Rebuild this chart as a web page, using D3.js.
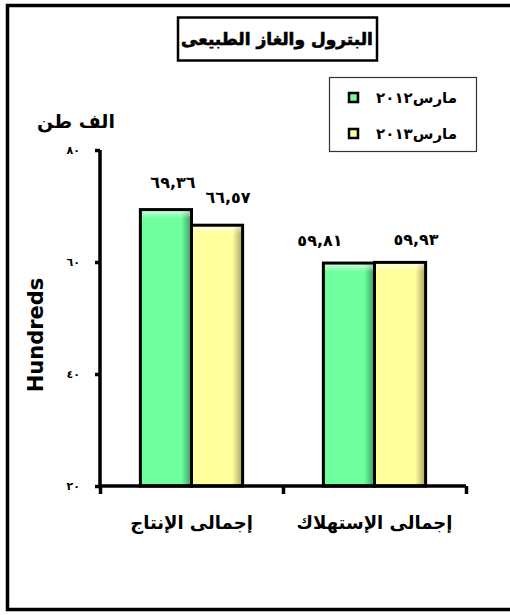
<!DOCTYPE html>
<html>
<head>
<meta charset="utf-8">
<script src="https://cdn.jsdelivr.net/npm/d3@7"></script>
<style>
  body { margin: 0; background: #fff; }
  text { font-family: "DejaVu Sans", sans-serif; font-weight: bold; }
</style>
</head>
<body>
<script>
var categories = ["إجمالى الإنتاج", "إجمالى الإستهلاك"];
var series = ["مارس٢٠١٢", "مارس٢٠١٣"];
var values2012 = [69.36, 59.81];
var values2013 = [66.57, 59.93];
var yTicks = [20, 40, 60, 80];

var w = 510, h = 615;
var colors = { "مارس٢٠١٢": ["#6fff9f", "#3c9c60"], "مارس٢٠١٣": ["#ffff9c", "#a8a060"] };

// western digits -> arabic-indic, decimal point -> comma
function arabicNum(n, dec) {
  var s = dec ? n.toFixed(dec) : String(n);
  return s.replace(/\d/g, function(c) { return "٠١٢٣٤٥٦٧٨٩"[+c]; }).replace(".", ",");
}

var svg = d3.select("body").append("svg").attr("width", w).attr("height", h);
var defs = svg.append("defs");

series.forEach(function(s, i) {
  var g = defs.append("linearGradient").attr("id", "grad" + i)
    .attr("x1", "0").attr("x2", "1").attr("y1", "0").attr("y2", "0");
  g.append("stop").attr("offset", "0").attr("stop-color", colors[s][0]);
  g.append("stop").attr("offset", "0.8").attr("stop-color", colors[s][0]);
  g.append("stop").attr("offset", "1").attr("stop-color", colors[s][1]);
});
var hl = defs.append("linearGradient").attr("id", "hl")
  .attr("x1", "0").attr("x2", "0").attr("y1", "0").attr("y2", "1");
hl.append("stop").attr("offset", "0").attr("stop-color", "#fff").attr("stop-opacity", 0.7);
hl.append("stop").attr("offset", "1").attr("stop-color", "#fff").attr("stop-opacity", 0);

// outer frame
svg.append("rect").attr("x", 7.5).attr("y", 5.5).attr("width", 530).attr("height", 604)
  .attr("fill", "none").attr("stroke", "#000").style("stroke-width", 3.5);

// title
svg.append("rect").attr("x", 178).attr("y", 17.5).attr("width", 199).attr("height", 43)
  .attr("fill", "#fff").attr("stroke", "#000").style("stroke-width", 2.5);
svg.append("text").attr("x", 277).attr("y", 45).attr("text-anchor", "middle")
  .attr("direction", "rtl").attr("font-size", 17).attr("stroke", "#000").style("stroke-width", 0.6)
  .text("البترول والغاز الطبيعى");

var y = d3.scaleLinear().domain([20, 80]).range([486, 150]);
var x = d3.scaleBand().domain(categories).range([100, 466]);
var x1 = d3.scaleBand().domain(series).range([0, x.bandwidth()]).paddingOuter(0.79);

// y axis
var yAxis = svg.append("g").attr("transform", "translate(100,0)")
  .call(d3.axisLeft(y).tickValues(yTicks).tickSize(5).tickFormat(function(d) { return arabicNum(d); }));
yAxis.select(".domain").style("stroke-width", 3.5).attr("d", "M0," + y(80) + "V" + y(20));
yAxis.selectAll(".tick line").style("stroke-width", 3.5);
yAxis.selectAll(".tick text").attr("x", -20).attr("font-size", 11)
  .attr("letter-spacing", 4).attr("font-family", "DejaVu Sans");

// bars
var rows = categories.map(function(c, i) {
  return [{ cat: c, s: series[0], v: values2012[i] }, { cat: c, s: series[1], v: values2013[i] }];
});
var groups = svg.selectAll("g.grp").data(rows).enter().append("g").attr("class", "grp")
  .attr("transform", function(d) { return "translate(" + x(d[0].cat) + ",0)"; });
var bar = groups.selectAll("g.bar").data(function(d) { return d; }).enter().append("g").attr("class", "bar");
bar.append("rect")
  .attr("x", function(d) { return x1(d.s); })
  .attr("y", function(d) { return y(d.v); })
  .attr("width", x1.bandwidth())
  .attr("height", function(d) { return y(20) - y(d.v); })
  .attr("fill", function(d) { return "url(#grad" + series.indexOf(d.s) + ")"; });
bar.append("rect")
  .attr("x", function(d) { return x1(d.s); })
  .attr("y", function(d) { return y(d.v); })
  .attr("width", x1.bandwidth()).attr("height", 9)
  .attr("fill", "url(#hl)");
bar.append("rect")
  .attr("x", function(d) { return x1(d.s); })
  .attr("y", function(d) { return y(d.v); })
  .attr("width", x1.bandwidth())
  .attr("height", function(d) { return y(20) - y(d.v); })
  .attr("fill", "none").attr("stroke", "#000").style("stroke-width", 3);

// value labels (nudged like the original)
var nudge = [[7, 11], [-29, 16]];
bar.append("text")
  .attr("x", function(d) { return x1(d.s) + x1.bandwidth() / 2 + nudge[categories.indexOf(d.cat)][series.indexOf(d.s)]; })
  .attr("y", function(d) { return y(d.v) - (d.cat === categories[0] ? 22 : 17); })
  .attr("text-anchor", "middle").attr("font-size", 16).attr("letter-spacing", 5)
  .text(function(d) { return arabicNum(d.v, 2); });

// x axis
var xAxis = svg.append("g").attr("transform", "translate(0," + y(20) + ")")
  .call(d3.axisBottom(d3.scaleLinear().domain([0, 2]).range(x.range())).ticks(2).tickSize(8).tickFormat(""));
xAxis.select(".domain").style("stroke-width", 3.5).attr("d", "M" + x.range()[0] + ",0H" + x.range()[1]);
xAxis.selectAll(".tick line").style("stroke-width", 3.5);

svg.selectAll("text.cat").data(categories).enter().append("text").attr("class", "cat")
  .attr("x", function(d) { return x(d) + x.bandwidth() / 2; })
  .attr("y", 529).attr("text-anchor", "middle").attr("direction", "rtl").attr("font-size", 18)
  .text(function(d) { return d; });

// axis titles
svg.append("text").attr("x", 76).attr("y", 128).attr("text-anchor", "middle")
  .attr("direction", "rtl").attr("font-size", 19).text("الف طن");
svg.append("text").attr("transform", "translate(43,335) rotate(-90)")
  .attr("text-anchor", "middle").attr("font-family", "Liberation Sans").attr("font-size", 21)
  .text("Hundreds");

// legend
svg.append("rect").attr("x", 329.5).attr("y", 77.5).attr("width", 147).attr("height", 74)
  .attr("fill", "#fff").attr("stroke", "#333").style("stroke-width", 1.2);
var lg = svg.selectAll("g.lg").data(series).enter().append("g").attr("class", "lg")
  .attr("transform", function(d, i) { return "translate(0," + (98 + i * 36) + ")"; });
lg.append("rect").attr("x", 349).attr("y", -5).attr("width", 9).attr("height", 9)
  .attr("fill", function(d, i) { return "url(#grad" + i + ")"; })
  .attr("stroke", "#000").style("stroke-width", 2.5);
var lt = lg.append("text").attr("x", 457).attr("y", 5).attr("text-anchor", "start")
  .attr("direction", "rtl").attr("font-size", 15);
lt.append("tspan").text(function(d) { return d.replace(/[٠-٩]+$/, ""); });
lt.append("tspan").attr("letter-spacing", 5).text(function(d) { return d.match(/[٠-٩]+$/)[0]; });
</script>
</body>
</html>
